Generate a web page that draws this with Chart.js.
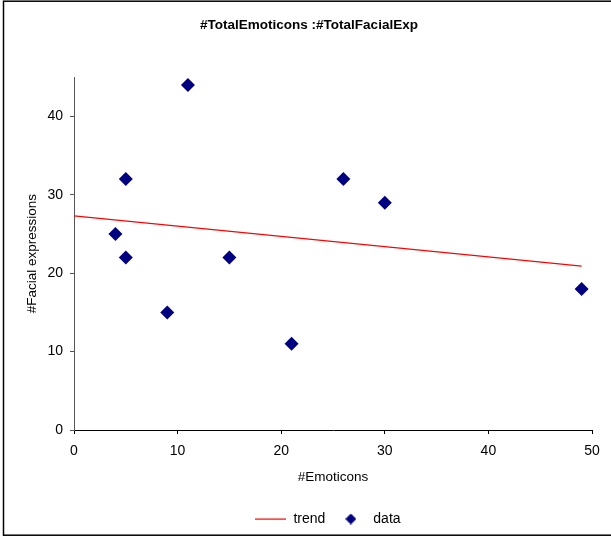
<!DOCTYPE html>
<html>
<head>
<meta charset="utf-8">
<script src="https://cdn.jsdelivr.net/npm/chart.js@4.4.0/dist/chart.umd.min.js"></script>
<style>
  html, body { margin: 0; padding: 0; background: #fff; }
  #wrap { width: 611px; height: 537px; }
</style>
</head>
<body>
<div id="wrap"><canvas id="c" width="611" height="537"></canvas></div>
<script>
const chartTitle = '#TotalEmoticons :#TotalFacialExp';
const xAxisTitle = '#Emoticons';
const yAxisTitle = '#Facial expressions';
const emoticons = [4, 5, 5, 9, 11, 15, 21, 26, 30, 49];
const facialExp = [25, 32, 22, 15, 44, 22, 11, 32, 29, 18];
const trendX = [0, 49];
const trendY = [27.3, 20.9];
const xTicks = [0, 10, 20, 30, 40, 50];
const yTicks = [0, 10, 20, 30, 40];

const FONT = 'Liberation Sans, Arial, sans-serif';
Chart.defaults.font.family = FONT;
Chart.defaults.font.size = 12;
Chart.defaults.color = '#000';

// legend swatches
const trendSwatch = document.createElement('canvas');
trendSwatch.width = 31; trendSwatch.height = 2;
(function () { const c = trendSwatch.getContext('2d'); c.fillStyle = '#ff0000'; c.fillRect(0, 0.5, 31, 1.2); })();
const dataSwatch = document.createElement('canvas');
dataSwatch.width = 11; dataSwatch.height = 11;
(function () {
  const c = dataSwatch.getContext('2d');
  c.fillStyle = '#000080';
  c.beginPath(); c.moveTo(5.5, 0); c.lineTo(11, 5.5); c.lineTo(5.5, 11); c.lineTo(0, 5.5); c.closePath(); c.fill();
})();
const swatches = [trendSwatch, dataSwatch];

const frame = {
  id: 'frame',
  beforeDraw(chart) {
    const ctx = chart.ctx;
    ctx.save();
    ctx.fillStyle = '#fff';
    ctx.fillRect(0, 0, chart.width, chart.height);
    ctx.strokeStyle = '#000';
    ctx.lineWidth = 1.5;
    ctx.strokeRect(3.5, 1.2, 640, 534);
    ctx.restore();
  },
  afterLayout(chart) {
    if (chart.legend) { chart.legend.left += 27; chart.legend.right += 27; }
    if (chart.titleBlock) { chart.titleBlock.left += 8; chart.titleBlock.right += 8; }
  }
};

new Chart(document.getElementById('c'), {
  type: 'scatter',
  data: {
    datasets: [
      {
        label: 'trend',
        type: 'line',
        data: trendX.map((x, i) => ({ x, y: trendY[i] })),
        borderColor: '#ff0000',
        backgroundColor: '#ff0000',
        borderWidth: 1.2,
        pointRadius: 0,
        fill: false
      },
      {
        label: 'data',
        data: emoticons.map((x, i) => ({ x, y: facialExp[i] })),
        pointStyle: 'rectRot',
        pointRadius: 7,
        pointHoverRadius: 7,
        backgroundColor: '#000080',
        borderColor: '#000080',
        borderWidth: 0
      }
    ]
  },
  options: {
    responsive: false,
    animation: false,
    layout: { padding: { left: 10, right: 19, top: 0, bottom: 1 } },
    plugins: {
      title: {
        display: true,
        text: chartTitle,
        font: { size: 13.5, weight: 'bold', family: FONT },
        color: '#000',
        padding: { top: 17, bottom: 44 }
      },
      legend: {
        position: 'bottom',
        labels: {
          usePointStyle: true,
          pointStyleWidth: 31,
          boxHeight: 14,
          padding: 10,
          color: '#000',
          font: { size: 14, family: FONT },
          generateLabels(chart) {
            const items = Chart.defaults.plugins.legend.labels.generateLabels(chart);
            items.forEach(it => { it.pointStyle = swatches[it.datasetIndex]; });
            return items;
          },
          sort: (a, b) => a.datasetIndex - b.datasetIndex
        }
      },
      tooltip: { enabled: false }
    },
    scales: {
      x: {
        type: 'linear',
        min: 0,
        max: 50,
        afterBuildTicks: s => { s.ticks = xTicks.map(v => ({ value: v })); },
        grid: { drawOnChartArea: false, drawTicks: true, tickLength: 4, color: '#000' },
        border: { color: '#000', width: 1 },
        ticks: { padding: 9, color: '#000', font: { size: 14 } },
        title: { display: true, text: xAxisTitle, color: '#000', font: { size: 13.5 }, padding: { top: 5, bottom: 17 } },
        afterFit: s => { s.height = 72; }
      },
      y: {
        type: 'linear',
        min: 0,
        max: 45,
        afterBuildTicks: s => { s.ticks = yTicks.map(v => ({ value: v })); },
        grid: { drawOnChartArea: false, drawTicks: true, tickLength: 4, color: '#555' },
        border: { color: '#555', width: 1 },
        ticks: { padding: 7, color: '#000', font: { size: 14 } },
        title: { display: true, text: yAxisTitle, color: '#000', font: { size: 13.5 }, padding: { top: 14, bottom: 0 } },
        afterFit: s => { s.width = 64; }
      }
    }
  },
  plugins: [frame]
});
</script>
</body>
</html>
